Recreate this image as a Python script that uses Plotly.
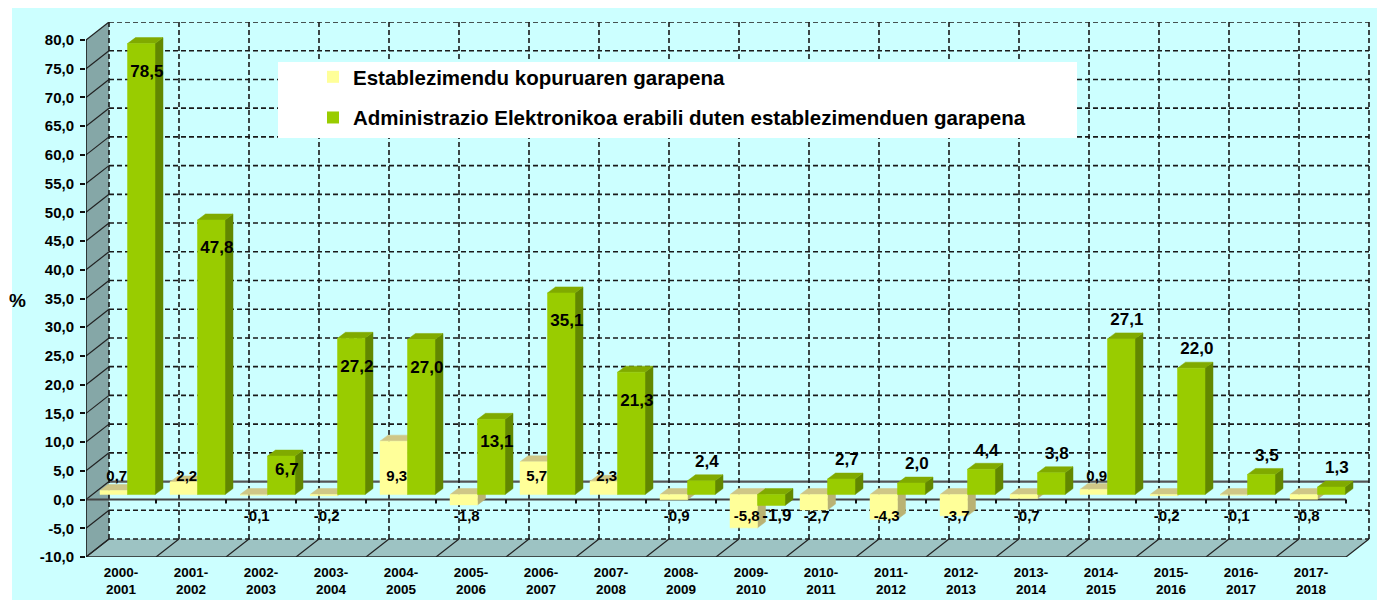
import plotly.graph_objects as go

# ---------------- data ----------------
categories = ["2000-2001", "2001-2002", "2002-2003", "2003-2004", "2004-2005", "2005-2006",
              "2006-2007", "2007-2008", "2008-2009", "2009-2010", "2010-2011", "2011-2012",
              "2012-2013", "2013-2014", "2014-2015", "2015-2016", "2016-2017", "2017-2018"]
establishments = [0.7, 2.2, -0.1, -0.2, 9.3, -1.8, 5.7, 2.3, -0.9, -5.8, -2.7, -4.3,
                  -3.7, -0.7, 0.9, -0.2, -0.1, -0.8]
e_admin = [78.5, 47.8, 6.7, 27.2, 27.0, 13.1, 35.1, 21.3, 2.4, -1.9, 2.7, 2.0,
           4.4, 3.8, 27.1, 22.0, 3.5, 1.3]
series_names = ["Establezimendu kopuruaren garapena",
                "Administrazio Elektronikoa erabili duten establezimenduen garapena"]
y_ticks = list(range(-10, 81, 5))

# label placement style (inside the bar top for the tall early bars)
green_label_inside = [True] * 8 + [False] * 10

# ---------------- geometry / style ----------------
PAGE_OFF = 8                      # default page body margin
W, H = 1385 - PAGE_OFF, 600 - PAGE_OFF
# plot area in page pixels: x 86..1371, y 22..557
ML = 86 - PAGE_OFF
MT = 22 - PAGE_OFF
MR = W - (1371 - PAGE_OFF)
MB = H - (557 - PAGE_OFF)
PX_CAT = 70.0
PX_UNIT = 517 / 90
pw, ph = W - ML - MR, H - MT - MB
x_range = [-0.5, -0.5 + pw / PX_CAT]
y_range = [-10, -10 + ph / PX_UNIT]
DX, DY = 23 / PX_CAT, 18 / PX_UNIT          # wall depth
BAR_W = 27.5 / PX_CAT
OY = 5 / PX_UNIT                            # bar front sits slightly behind front plane
BX, BY = 8 / PX_CAT, 6 / PX_UNIT            # bar depth
YEL_LEFT = -0.3
GRN_LEFT = YEL_LEFT + BAR_W
N = len(categories)
YMIN, YMAX = y_ticks[0], y_ticks[-1]

CYAN = "#CCFFFF"
colors = {
    "yel": ("#FFFF99", "#CFC787", "#B9B273"),
    "grn": ("#99CC00", "#80AA00", "#628800"),
}


def px_to_paper_x(px):
    return (px - PAGE_OFF - ML) / pw


def px_to_paper_y(py):
    return (H - MB - (py - PAGE_OFF)) / ph


def bar_faces(vals, left):
    f, t, s = ([], []), ([], []), ([], [])
    for i, v in enumerate(vals):
        x0 = i + left
        x1 = x0 + BAR_W
        bot = OY + min(0, v)
        top = OY + max(0, v)
        f[0].extend([x0, x1, x1, x0, x0, None]); f[1].extend([bot, bot, top, top, bot, None])
        t[0].extend([x0, x1, x1 + BX, x0 + BX, x0, None]); t[1].extend([top, top, top + BY, top + BY, top, None])
        s[0].extend([x1, x1 + BX, x1 + BX, x1, x1, None]); s[1].extend([bot, bot + BY, top + BY, top, bot, None])
    return f, t, s


fig = go.Figure()

for vals, left, key in [(establishments, YEL_LEFT, "yel"), (e_admin, GRN_LEFT, "grn")]:
    f, t, s = bar_faces(vals, left)
    cf, ct, cs = colors[key]
    for (xs, ys), c in [(s, cs), (t, ct), (f, cf)]:
        fig.add_trace(go.Scatter(x=xs, y=ys, mode="lines", fill="toself", fillcolor=c,
                                 line=dict(color=c, width=0.5), hoverinfo="skip",
                                 showlegend=False))

# value labels
yel_lab_y = [3.8 if v > 0 else -3.0 for v in establishments]
fig.add_trace(go.Scatter(
    x=[i - 0.06 for i in range(N)], y=yel_lab_y, mode="text",
    text=[f"{v:.1f}".replace(".", ",") for v in establishments],
    textfont=dict(family="Arial", size=15, color="black", weight="bold"),
    hoverinfo="skip", showlegend=False, cliponaxis=False))

grn_lab_y = []
for v, inside in zip(e_admin, green_label_inside):
    if v < 0:
        grn_lab_y.append(-3.0)
    elif inside:
        grn_lab_y.append(v - min(4.2, 0.25 * v))
    else:
        grn_lab_y.append(v + 4.0)
fig.add_trace(go.Scatter(
    x=[i + 0.37 for i in range(N)], y=grn_lab_y, mode="text",
    text=[f"{v:.1f}".replace(".", ",") for v in e_admin],
    textfont=dict(family="Arial", size=17, color="black", weight="bold"),
    hoverinfo="skip", showlegend=False, cliponaxis=False))

# legend entries
for name, key in zip(series_names, ["yel", "grn"]):
    fig.add_trace(go.Scatter(x=[None], y=[None], mode="markers", name=name, legendgroup=name,
                             marker=dict(symbol="square", size=12, color=colors[key][0])))

# ---------------- walls & grid ----------------
shapes = []
# cyan chart area
shapes.append(dict(type="rect", xref="paper", yref="paper", layer="below",
                   x0=px_to_paper_x(12), x1=px_to_paper_x(1400),
                   y0=px_to_paper_y(620), y1=px_to_paper_y(8),
                   fillcolor=CYAN, line=dict(width=0)))
xl, xr = -0.5, N - 0.5
# left wall
shapes.append(dict(type="path", xref="x", yref="y", layer="below",
                   path=f"M {xl},{YMIN} L {xl},{YMAX} L {xl+DX},{YMAX+DY} L {xl+DX},{YMIN+DY} Z",
                   fillcolor="#85A7A7", line=dict(width=0)))
# floor
shapes.append(dict(type="path", xref="x", yref="y", layer="below",
                   path=f"M {xl},{YMIN} L {xr},{YMIN} L {xr+DX},{YMIN+DY} L {xl+DX},{YMIN+DY} Z",
                   fillcolor="#9DC3C3", line=dict(width=0)))
grid_line = dict(color="#1a1a1a", width=1.6, dash="5px,3px")
# back wall horizontal grid
for v in y_ticks:
    if v == 0:
        ln = dict(color="#555555", width=2.2)
    else:
        ln = grid_line
    shapes.append(dict(type="line", xref="x", yref="y", layer="below",
                       x0=xl + DX, x1=xr + DX, y0=v + DY, y1=v + DY, line=ln))
    # left wall diagonals
    shapes.append(dict(type="line", xref="x", yref="y", layer="below",
                       x0=xl, x1=xl + DX, y0=v, y1=v + DY, line=dict(color="#222222", width=1.2)))
# back wall vertical grid + floor diagonals
for k in range(N + 1):
    xb = k - 0.5
    shapes.append(dict(type="line", xref="x", yref="y", layer="below",
                       x0=xb + DX, x1=xb + DX, y0=YMIN + DY, y1=YMAX + DY, line=grid_line))
    shapes.append(dict(type="line", xref="x", yref="y", layer="below",
                       x0=xb, x1=xb + DX, y0=YMIN, y1=YMIN + DY, line=dict(color="#222222", width=1.2)))
# floor front edge
shapes.append(dict(type="line", xref="x", yref="y", layer="below",
                   x0=xl, x1=xr, y0=YMIN, y1=YMIN, line=dict(color="#222222", width=1.5)))
# front zero line with category ticks
shapes.append(dict(type="line", xref="x", yref="y", layer="below",
                   x0=xl, x1=xr, y0=0, y1=0, line=dict(color="#444444", width=2)))
for k in range(1, N + 1):
    shapes.append(dict(type="line", xref="x", yref="y", layer="below",
                       x0=k - 0.5, x1=k - 0.5, y0=0, y1=-0.7, line=dict(color="#111111", width=2)))
# front value axis line
shapes.append(dict(type="line", xref="x", yref="y", layer="below",
                   x0=xl, x1=xl, y0=YMIN, y1=YMAX, line=dict(color="#111111", width=1.5)))
# legend box
shapes.append(dict(type="rect", xref="paper", yref="paper", layer="above",
                   x0=px_to_paper_x(278), x1=px_to_paper_x(1077),
                   y0=px_to_paper_y(138), y1=px_to_paper_y(62),
                   fillcolor="white", line=dict(width=0)))

fig.update_layout(
    width=W, height=H,
    margin=dict(l=ML, r=MR, t=MT, b=MB, autoexpand=False),
    paper_bgcolor="white", plot_bgcolor=CYAN,
    shapes=shapes,
    showlegend=True,
    legend=dict(x=px_to_paper_x(313), y=px_to_paper_y(57), xanchor="left", yanchor="top",
                bgcolor="rgba(0,0,0,0)", tracegroupgap=11,
                font=dict(family="Arial", size=20.5, color="black", weight="bold")),
    annotations=[dict(text="%", xref="paper", yref="paper", x=px_to_paper_x(17),
                      y=px_to_paper_y(300), showarrow=False, xanchor="center", yanchor="middle",
                      font=dict(family="Arial", size=19, color="black", weight="bold"))],
)
fig.update_xaxes(range=x_range, showgrid=False, zeroline=False, showline=False, automargin=False,
                 tickmode="array", tickvals=list(range(N)),
                 ticktext=[c.replace("-", "-<br>") for c in categories],
                 ticks="", ticklabelstandoff=5,
                 tickfont=dict(family="Arial", size=13.5, color="black", weight="bold"))
fig.update_yaxes(range=y_range, showgrid=False, zeroline=False, showline=False, automargin=False,
                 tickmode="array", tickvals=y_ticks,
                 ticktext=[f"{v:.1f}".replace(".", ",") for v in y_ticks],
                 ticks="outside", ticklen=5, tickcolor="#111111", tickwidth=1.5,
                 ticklabelstandoff=3,
                 tickfont=dict(family="Arial", size=15, color="black", weight="bold"))

fig.write_html("out.html")
